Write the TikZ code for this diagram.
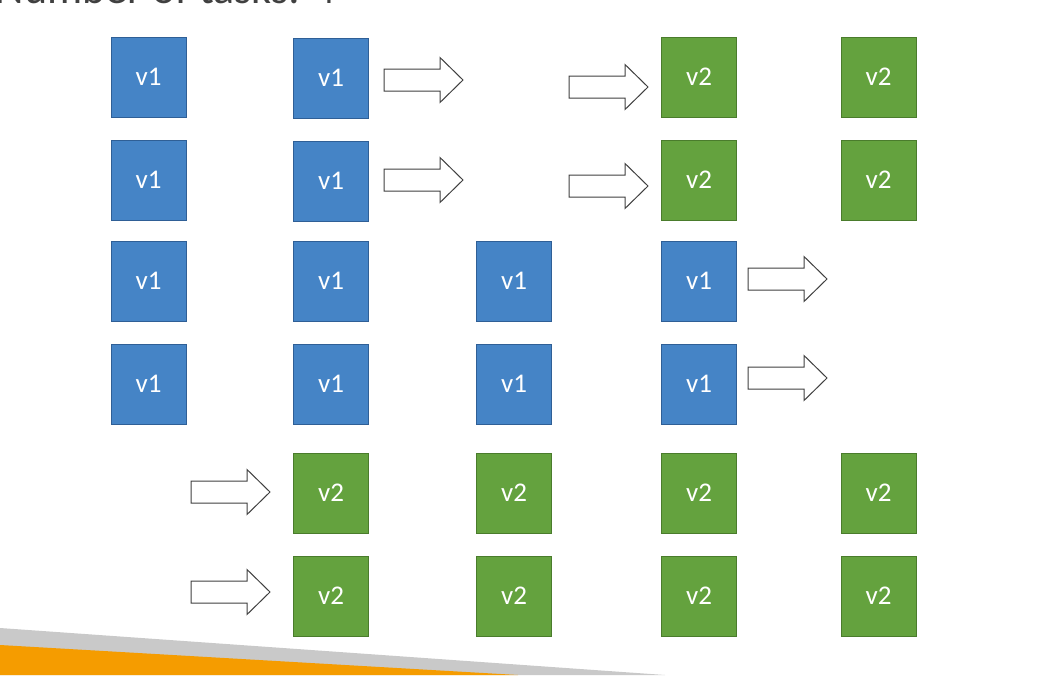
\documentclass[tikz,border=0pt]{standalone}
\usepackage{fontspec}
\setmainfont{Carlito}
\begin{document}
\begin{tikzpicture}[x=1pt,y=-1pt,
  box/.style={draw, line width=1pt, minimum width=75pt, minimum height=80pt, inner sep=0pt,
    text=white, font=\fontsize{27}{30}\selectfont},
  vone/.style={box, fill=blue1, draw=blue1d},
  vtwo/.style={box, fill=green1, draw=green1d},
  arrowline/.style={draw=black!75, line width=1pt, fill=white, line join=miter},
  blockarrow/.pic={\path[arrowline] (0,-11) -- (56,-11) -- (56,-22.5) -- (79,0) -- (56,22.5) -- (56,11) -- (0,11) -- cycle;}
]
\definecolor{blue1}{HTML}{4584C6}
\definecolor{blue1d}{HTML}{2F5F96}
\definecolor{green1}{HTML}{64A23E}
\definecolor{green1d}{HTML}{4A7C2C}
\definecolor{graybar}{HTML}{C9C9C9}
\definecolor{orangebar}{HTML}{F59C00}
\useasboundingbox (0,0) rectangle (1039,675);
% bottom bands
\fill[graybar] (0,628) -- (665,675) -- (0,675) -- cycle;
\fill[orangebar] (0,645) -- (518,675) -- (0,675) -- cycle;
% clipped title
\node[anchor=base east, inner sep=0pt, text=black!75, font=\fontsize{44}{48}\selectfont] (title) at (336,3) {Number of tasks: 4};
% row 1
\node[vone] (a1) at (148.5,77) {v1};
\node[vone] (b1) at (331,78) {v1};
\pic at (384,80) {blockarrow};
\pic at (569,87) {blockarrow};
\node[vtwo] (d1) at (699,77) {v2};
\node[vtwo] (e1) at (878.5,77) {v2};
% row 2
\node[vone] (a2) at (148.5,180) {v1};
\node[vone] (b2) at (331,181) {v1};
\pic at (384,180) {blockarrow};
\pic at (569,186) {blockarrow};
\node[vtwo] (d2) at (699,180) {v2};
\node[vtwo] (e2) at (878.5,180) {v2};
% row 3
\node[vone] (a3) at (148.5,281) {v1};
\node[vone] (b3) at (331,281) {v1};
\node[vone] (c3) at (514,281) {v1};
\node[vone] (d3) at (699,281) {v1};
\pic at (748,279) {blockarrow};
% row 4
\node[vone] (a4) at (148.5,384) {v1};
\node[vone] (b4) at (331,384) {v1};
\node[vone] (c4) at (514,384) {v1};
\node[vone] (d4) at (699,384) {v1};
\pic at (748,378) {blockarrow};
% row 5
\pic at (191,492) {blockarrow};
\node[vtwo] (b5) at (331,493) {v2};
\node[vtwo] (c5) at (514,493) {v2};
\node[vtwo] (d5) at (699,493) {v2};
\node[vtwo] (e5) at (878.5,493) {v2};
% row 6
\pic at (191,592) {blockarrow};
\node[vtwo] (b6) at (331,596) {v2};
\node[vtwo] (c6) at (514,596) {v2};
\node[vtwo] (d6) at (699,596) {v2};
\node[vtwo] (e6) at (878.5,596) {v2};
\end{tikzpicture}
\end{document}
